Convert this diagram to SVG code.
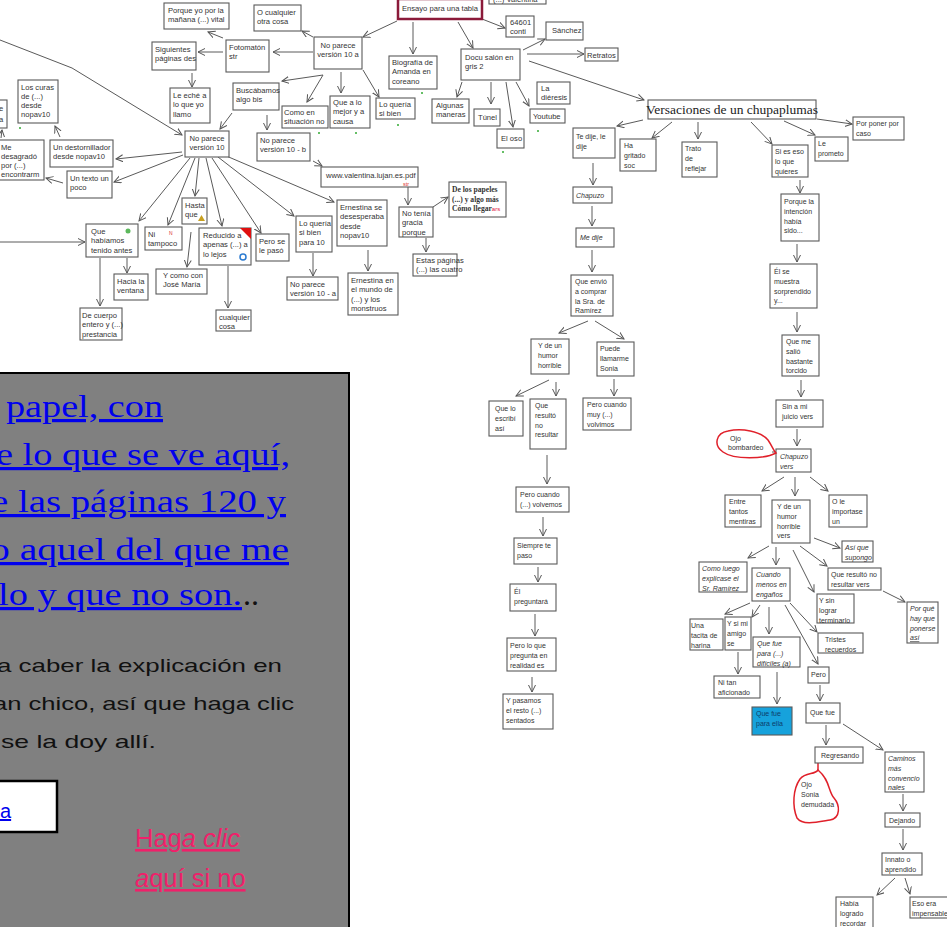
<svg xmlns="http://www.w3.org/2000/svg" width="947" height="927" viewBox="0 0 947 927">
<defs>
<marker id="ah" markerWidth="9" markerHeight="9" refX="7" refY="4" orient="auto" markerUnits="userSpaceOnUse"><path d="M0,0.5 L7,4 L0,7.5" fill="none" stroke="#555" stroke-width="1"/></marker>
<style>
.b{fill:#fff;stroke:#5a5a5a;stroke-width:1.1}
.t{font-family:"Liberation Sans",Arial,sans-serif;font-size:7.6px;fill:#333}
.r{font-family:"Liberation Sans",Arial,sans-serif;font-size:7px;fill:#333}
.i{font-style:italic}
.c{fill:none;stroke:#5a5a5a;stroke-width:1;marker-end:url(#ah)}
.l{fill:none;stroke:#5a5a5a;stroke-width:1}
.red{fill:none;stroke:#e0202a;stroke-width:1.5}
.blue{font-family:"Liberation Serif","Times New Roman",serif;font-size:32px;fill:#0000ee;text-decoration:underline}
.blk{font-family:"Liberation Sans",Arial,sans-serif;font-size:19px;fill:#111}
.pink{font-family:"Liberation Sans",Arial,sans-serif;font-size:25.5px;fill:#f0206a;text-decoration:underline}
</style>
</defs>
<rect x="0" y="0" width="947" height="927" fill="#fff"/>

<g id="connectors">
<path class="c" d="M0,40 L72,68 L182,135"/>
<path class="c" d="M0,242 L85,242"/>
<path class="c" d="M397,21 L363,37"/>
<path class="c" d="M313,52 L273,52"/>
<path class="c" d="M313,37 L302,31"/>
<path class="c" d="M323,75 L282,81"/>
<path class="c" d="M323,75 L307,102"/>
<path class="c" d="M341,72 L341,93"/>
<path class="c" d="M363,70 L379,97"/>
<path class="c" d="M223,38 L208,32"/>
<path class="c" d="M223,52 L198,52"/>
<path class="c" d="M192,73 L192,87"/>
<path class="c" d="M232,113 L220,129"/>
<path class="c" d="M267,115 L267,130"/>
<path class="c" d="M313,161 L322,166"/>
<path class="c" d="M182,152 L116,159"/>
<path class="c" d="M183,155 L114,182"/>
<path class="c" d="M63,183 L46,178"/>
<path class="c" d="M60,137 L55,126"/>
<path class="c" d="M1,138 L2,130"/>
<path class="c" d="M190,158 L139,221"/>
<path class="c" d="M195,158 L168,225"/>
<path class="c" d="M199,158 L195,196"/>
<path class="c" d="M206,158 L222,226"/>
<path class="c" d="M212,158 L261,233"/>
<path class="c" d="M218,157 L294,216"/>
<path class="c" d="M224,155 L334,202"/>
<path class="c" d="M127,258 L127,273"/>
<path class="c" d="M100,258 L100,306"/>
<path class="c" d="M191,232 L187,267"/>
<path class="c" d="M228,266 L228,308"/>
<path class="c" d="M313,253 L313,276"/>
<path class="c" d="M368,250 L368,271"/>
<path class="c" d="M408,187 L408,205"/>
<path class="c" d="M433,207 L448,197"/>
<path class="c" d="M426,238 L426,252"/>
<path class="c" d="M413,22 L413,54"/>
<path class="c" d="M458,22 L473,48"/>
<path class="c" d="M482,19 L505,28"/>
<path class="c" d="M523,50 L545,39"/>
<path class="c" d="M527,54 L584,54"/>
<path class="c" d="M529,61 L644,100"/>
<path class="c" d="M462,82 L457,97"/>
<path class="c" d="M491,82 L491,104"/>
<path class="c" d="M506,82 L513,127"/>
<path class="c" d="M516,82 L529,106"/>
<path class="c" d="M643,120 L617,126"/>
<path class="c" d="M672,122 L652,138"/>
<path class="c" d="M698,122 L698,139"/>
<path class="c" d="M751,122 L772,144"/>
<path class="c" d="M784,121 L815,135"/>
<path class="c" d="M817,119 L852,124"/>
<path class="c" d="M593,163 L593,185"/>
<path class="c" d="M592,206 L592,226"/>
<path class="c" d="M592,250 L592,272"/>
<path class="c" d="M588,321 L559,333"/>
<path class="c" d="M595,321 L624,339"/>
<path class="c" d="M549,380 L516,396"/>
<path class="c" d="M556,382 L556,396"/>
<path class="c" d="M614,379 L614,396"/>
<path class="c" d="M547,455 L547,484"/>
<path class="c" d="M543,517 L543,536"/>
<path class="c" d="M538,567 L538,582"/>
<path class="c" d="M535,614 L535,636"/>
<path class="c" d="M532,677 L532,692"/>
<path class="c" d="M800,180 L800,193"/>
<path class="c" d="M797,244 L797,262"/>
<path class="c" d="M797,312 L797,332"/>
<path class="c" d="M801,380 L801,397"/>
<path class="c" d="M797,429 L797,446"/>
<path class="c" d="M784,477 L762,491"/>
<path class="c" d="M795,477 L795,496"/>
<path class="c" d="M810,477 L828,491"/>
<path class="c" d="M814,538 L840,548"/>
<path class="c" d="M800,546 L827,566"/>
<path class="c" d="M793,550 L814,592"/>
<path class="c" d="M769,546 L748,558"/>
<path class="c" d="M776,547 L776,565"/>
<path class="c" d="M883,591 L905,602"/>
<path class="c" d="M750,603 L725,614"/>
<path class="c" d="M760,605 L752,617"/>
<path class="c" d="M769,607 L769,634"/>
<path class="c" d="M790,603 L817,632"/>
<path class="c" d="M785,605 L818,664"/>
<path class="c" d="M738,652 L738,674"/>
<path class="c" d="M777,672 L777,704"/>
<path class="c" d="M820,685 L820,701"/>
<path class="c" d="M826,725 L826,745"/>
<path class="c" d="M843,724 L883,750"/>
<path class="c" d="M903,794 L903,811"/>
<path class="c" d="M903,829 L903,850"/>
<path class="c" d="M895,878 L877,895"/>
<path class="c" d="M905,878 L910,894"/>
<path class="l" d="M776,452 L772,452"/>
<path class="red" d="M818,763 L818,770"/>
</g>

<g id="p0"><rect class="b" x="-40" y="100" width="47" height="28"/><text class="t"><tspan x="-1" y="111">e</tspan><tspan x="-1" y="122">a</tspan></text></g>
<g id="n_curas"><rect class="b" x="18" y="80" width="40" height="43"/><text class="t"><tspan x="21" y="89.5">Los curas</tspan><tspan x="21" dy="9.3">de (...)</tspan><tspan x="21" dy="9.3">desde</tspan><tspan x="21" dy="9.3">nopav10</tspan></text></g>
<g id="n_desag"><rect class="b" x="-2" y="140" width="46" height="40"/><text class="t"><tspan x="1" y="149.5">Me</tspan><tspan x="1" dy="9.3">desagradó</tspan><tspan x="1" dy="9.3">por (...)</tspan><tspan x="1" dy="9.3">encontrarm</tspan></text></g>
<g id="n_destorn"><rect class="b" x="50" y="140" width="63" height="27"/><text class="t"><tspan x="53" y="150">Un destornillador</tspan><tspan x="53" dy="9.3">desde nopav10</tspan></text></g>
<g id="n_texto"><rect class="b" x="67" y="171" width="45" height="27"/><text class="t"><tspan x="70" y="181">Un texto un</tspan><tspan x="70" dy="9.3">poco</tspan></text></g>
<g id="n_sig"><rect class="b" x="152" y="42" width="44" height="28"/><text class="t"><tspan x="155" y="52">Siguientes</tspan><tspan x="155" dy="9.3">páginas des</tspan></text></g>
<g id="n_porque"><rect class="b" x="164" y="3" width="65" height="26"/><text class="t"><tspan x="168" y="13">Porque yo por la</tspan><tspan x="168" dy="9.3">mañana (...) vital</tspan></text></g>
<g id="n_foto"><rect class="b" x="226" y="40" width="43" height="32"/><text class="t"><tspan x="229" y="50">Fotomatón</tspan><tspan x="229" dy="9.3">str</tspan></text></g>
<g id="n_leeche"><rect class="b" x="170" y="88" width="40" height="35"/><text class="t"><tspan x="173" y="98">Le eché a</tspan><tspan x="173" dy="9.3">lo que yo</tspan><tspan x="173" dy="9.3">llamo</tspan></text></g>
<g id="n_busc"><rect class="b" x="233" y="83" width="46" height="27"/><text class="t"><tspan x="236" y="93">Buscábamos</tspan><tspan x="236" dy="9.3">algo bis</tspan></text></g>
<g id="n_ocual"><rect class="b" x="254" y="5" width="47" height="26"/><text class="t"><tspan x="257" y="15">O cualquier</tspan><tspan x="257" dy="9.3">otra cosa</tspan></text></g>
<g id="n_np10"><rect class="b" x="185" y="131" width="44" height="26"/><text class="t" text-anchor="middle"><tspan x="207" y="141">No parece</tspan><tspan x="207" dy="9.3">versión 10</tspan></text></g>
<g id="n_np10b"><rect class="b" x="257" y="133" width="53" height="28"/><text class="t"><tspan x="260" y="143">No parece</tspan><tspan x="260" dy="9.3">versión 10 - b</tspan></text></g>
<g id="n_como"><rect class="b" x="282" y="106" width="46" height="22"/><text class="t"><tspan x="284" y="115">Como en</tspan><tspan x="284" dy="9.3">situación no</tspan></text></g>
<g id="n_np10a"><rect class="b" x="314" y="37" width="48" height="32"/><text class="t" text-anchor="middle"><tspan x="338" y="48">No parece</tspan><tspan x="338" dy="9.3">versión 10 a</tspan></text></g>
<g id="n_quealo"><rect class="b" x="330" y="96" width="40" height="32"/><text class="t"><tspan x="333" y="105">Que a lo</tspan><tspan x="333" dy="9.3">mejor y a</tspan><tspan x="333" dy="9.3">causa</tspan></text></g>
<g id="n_loqsb"><rect class="b" x="376" y="98" width="39" height="21"/><text class="t"><tspan x="379" y="107">Lo quería</tspan><tspan x="379" dy="9.3">si bien</tspan></text></g>
<g id="n_bio"><rect class="b" x="389" y="56" width="48" height="33"/><text class="t"><tspan x="392" y="65">Biografía de</tspan><tspan x="392" dy="9.3">Amanda en</tspan><tspan x="392" dy="9.3">coreano</tspan></text></g>
<g id="n_ensayo"><rect x="398" y="-1" width="84" height="20" fill="#fff" stroke="#8b1a3a" stroke-width="2.5"/><text class="t" x="402" y="11">Ensayo para una tabla</text></g>
<g id="n_val"><rect class="b" x="489" y="-8" width="57" height="12"/><text class="t" x="493" y="2">(...) Valentina</text></g>
<g id="n_64601"><rect class="b" x="506" y="16" width="28" height="21"/><text class="t"><tspan x="510" y="25">64601</tspan><tspan x="510" dy="9.3">conti</tspan></text></g>
<g id="n_sanchez"><rect class="b" x="546" y="22" width="37" height="18"/><text class="t" x="552" y="33">Sánchez</text></g>
<g id="n_retratos"><rect class="b" x="585" y="48" width="33" height="13"/><text class="t" x="587" y="57.5">Retratos</text></g>
<g id="n_docu"><rect class="b" x="461" y="49" width="59" height="31"/><text class="t"><tspan x="465" y="60">Docu salón en</tspan><tspan x="465" dy="9.3">gris 2</tspan></text></g>
<g id="n_algunas"><rect class="b" x="432" y="99" width="37" height="24"/><text class="t"><tspan x="436" y="108">Algunas</tspan><tspan x="436" dy="9.3">maneras</tspan></text></g>
<g id="n_tunel"><rect class="b" x="474" y="109" width="26" height="17"/><text class="t" x="478" y="120">Túnel</text></g>
<g id="n_oso"><rect class="b" x="497" y="129" width="27" height="19"/><text class="t" x="501" y="141">El oso</text></g>
<g id="n_youtube"><rect class="b" x="530" y="109" width="35" height="14"/><text class="t" x="533" y="119">Youtube</text></g>
<g id="n_dier"><rect class="b" x="537" y="82" width="33" height="22"/><text class="t"><tspan x="541" y="91">La</tspan><tspan x="541" dy="9.3">diéresis</tspan></text></g>

<g id="n_habiamos"><rect class="b" x="86" y="224" width="52" height="33"/><circle cx="128" cy="231" r="2.5" fill="#5cb85c"/><text class="t"><tspan x="91" y="234">Que</tspan><tspan x="91" dy="9.3">habíamos</tspan><tspan x="91" dy="9.3">tenido antes</tspan></text></g>
<g id="n_ni"><rect class="b" x="145" y="227" width="37" height="23"/><text x="169" y="235" font-family="Liberation Sans,sans-serif" font-size="5" fill="#d33">N</text><text class="t"><tspan x="148" y="237">Ni</tspan><tspan x="148" dy="9.3">tampoco</tspan></text></g>
<g id="n_hasta"><rect class="b" x="182" y="198" width="25" height="26"/><polygon points="198,221 201.5,215 205,221" fill="#c8a020"/><text class="t"><tspan x="185" y="208">Hasta</tspan><tspan x="185" dy="9.3">que</tspan></text></g>
<g id="n_reduc"><rect class="b" x="199" y="228" width="52" height="37"/><polygon points="240,228 251,228 251,239" fill="#e01010"/><circle cx="243" cy="257" r="3" fill="none" stroke="#2a7ad0" stroke-width="1.5"/><text class="t"><tspan x="203" y="238">Reducido a</tspan><tspan x="203" dy="9.3">apenas (...) a</tspan><tspan x="203" dy="9.3">lo lejos</tspan></text></g>
<g id="n_pero"><rect class="b" x="256" y="234" width="33" height="27"/><text class="t"><tspan x="259" y="244">Pero se</tspan><tspan x="259" dy="9.3">le pasó</tspan></text></g>
<g id="n_lq10"><rect class="b" x="296" y="216" width="36" height="36"/><text class="t"><tspan x="299" y="226">Lo quería</tspan><tspan x="299" dy="9.3">si bien</tspan><tspan x="299" dy="9.3">para 10</tspan></text></g>
<g id="n_np10a2"><rect class="b" x="287" y="277" width="51" height="23"/><text class="t"><tspan x="290" y="287">No parece</tspan><tspan x="290" dy="9.3">versión 10 - a</tspan></text></g>
<g id="n_hacia"><rect class="b" x="114" y="274" width="34" height="26"/><text class="t"><tspan x="117" y="284">Hacia la</tspan><tspan x="117" dy="9.3">ventana</tspan></text></g>
<g id="n_jose"><rect class="b" x="156" y="269" width="51" height="25"/><text class="t"><tspan x="163" y="278">Y como con</tspan><tspan x="163" dy="9.3">José María</tspan></text></g>
<g id="n_cuerpo"><rect class="b" x="80" y="308" width="42" height="32"/><text class="t"><tspan x="82" y="318">De cuerpo</tspan><tspan x="82" dy="9.3">entero y (...)</tspan><tspan x="82" dy="9.3">prestancia</tspan></text></g>
<g id="n_cualq"><rect class="b" x="216" y="310" width="35" height="21"/><text class="t"><tspan x="219" y="320">cualquier</tspan><tspan x="219" dy="9.3">cosa</tspan></text></g>
<g id="n_www"><rect class="b" x="321" y="167" width="97" height="20"/><text class="t" x="326" y="178">www.valentina.lujan.es.pdf</text><text x="403" y="185.5" font-family="Liberation Sans,sans-serif" font-size="5.5" fill="#d33">str</text></g>
<g id="n_ern1"><rect class="b" x="337" y="200" width="50" height="46"/><text class="t"><tspan x="340" y="210">Ernestina se</tspan><tspan x="340" dy="9.3">desesperaba</tspan><tspan x="340" dy="9.3">desde</tspan><tspan x="340" dy="9.3">nopav10</tspan></text></g>
<g id="n_ern2"><rect class="b" x="348" y="273" width="50" height="42"/><text class="t"><tspan x="351" y="283">Ernestina en</tspan><tspan x="351" dy="9.3">el mundo de</tspan><tspan x="351" dy="9.3">(...) y los</tspan><tspan x="351" dy="9.3">monstruos</tspan></text></g>
<g id="n_notenia"><rect class="b" x="399" y="207" width="34" height="30"/><text class="t"><tspan x="402" y="216">No tenía</tspan><tspan x="402" dy="9.3">gracia</tspan><tspan x="402" dy="9.3">porque</tspan></text></g>
<g id="n_papeles"><rect class="b" x="449" y="182" width="57" height="35"/><text font-family="Liberation Serif,serif" font-size="7.6" font-weight="bold" fill="#333"><tspan x="452" y="192">De los papeles</tspan><tspan x="452" dy="9.5">(...) y algo más</tspan><tspan x="452" dy="9.5">Cómo llegar</tspan><tspan font-weight="normal" font-family="Liberation Sans,sans-serif" font-size="6" fill="#e02040">ars</tspan></text></g>
<g id="n_estas"><rect class="b" x="413" y="254" width="44" height="22"/><text class="t"><tspan x="416" y="263">Estas páginas</tspan><tspan x="416" dy="9.3">(...) las cuatro</tspan></text></g>

<g id="n_vers"><rect class="b" x="648" y="100" width="168" height="19"/><text x="732" y="114" text-anchor="middle" font-family="Liberation Serif,serif" font-size="13.5" fill="#222">Versaciones de un chupaplumas</text></g>
<g id="n_porponer"><rect class="b" x="853" y="117" width="51" height="23"/><text class="r"><tspan x="856" y="126">Por poner por</tspan><tspan x="856" dy="9.8">caso</tspan></text></g>
<g id="n_leprom"><rect class="b" x="815" y="137" width="33" height="24"/><text class="r"><tspan x="818" y="146">Le</tspan><tspan x="818" dy="9.8">prometo</tspan></text></g>
<g id="n_tedije"><rect class="b" x="573" y="128" width="42" height="30"/><text class="r"><tspan x="576" y="139">Te dije, le</tspan><tspan x="576" dy="9.8">dije</tspan></text></g>
<g id="n_hagrit"><rect class="b" x="620" y="139" width="36" height="32"/><text class="r"><tspan x="624" y="148">Ha</tspan><tspan x="624" dy="9.8">gritado</tspan><tspan x="624" dy="9.8">soc</tspan></text></g>
<g id="n_trato"><rect class="b" x="682" y="142" width="35" height="35"/><text class="r"><tspan x="685" y="151">Trato</tspan><tspan x="685" dy="9.8">de</tspan><tspan x="685" dy="9.8">reflejar</tspan></text></g>
<g id="n_siesa"><rect class="b" x="772" y="145" width="36" height="32"/><text class="r"><tspan x="775" y="154">Si es eso</tspan><tspan x="775" dy="9.8">lo que</tspan><tspan x="775" dy="9.8">quieres</tspan></text></g>
<g id="n_chap"><rect class="b" x="573" y="187" width="39" height="16"/><text class="r i" x="576" y="198">Chapuzo</text></g>
<g id="n_medije"><rect class="b" x="576" y="228" width="38" height="19"/><text class="r i" x="580" y="240">Me dije</text></g>
<g id="n_porquela"><rect class="b" x="781" y="194" width="38" height="47"/><text class="r"><tspan x="784" y="204">Porque la</tspan><tspan x="784" dy="9.8">intención</tspan><tspan x="784" dy="9.8">había</tspan><tspan x="784" dy="9.8">sido...</tspan></text></g>
<g id="n_else"><rect class="b" x="770" y="264" width="47" height="44"/><text class="r"><tspan x="774" y="274">Él se</tspan><tspan x="774" dy="9.8">muestra</tspan><tspan x="774" dy="9.8">sorprendido</tspan><tspan x="774" dy="9.8">y...</tspan></text></g>
<g id="n_queme"><rect class="b" x="782" y="335" width="37" height="41"/><text class="r"><tspan x="786" y="344">Que me</tspan><tspan x="786" dy="9.8">salió</tspan><tspan x="786" dy="9.8">bastante</tspan><tspan x="786" dy="9.8">torcido</tspan></text></g>
<g id="n_sinami"><rect class="b" x="776" y="400" width="47" height="27"/><text class="r"><tspan x="782" y="409">Sin a mi</tspan><tspan x="782" dy="9.8">juicio vers</tspan></text></g>
<g id="n_envio"><rect class="b" x="571" y="275" width="42" height="41"/><text class="r"><tspan x="575" y="284">Que envió</tspan><tspan x="575" dy="9.8">a comprar</tspan><tspan x="575" dy="9.8">la Sra. de</tspan><tspan x="575" dy="9.8">Ramírez</tspan></text></g>
<g id="n_humor"><rect class="b" x="531" y="339" width="38" height="35"/><text class="r"><tspan x="538" y="348">Y de un</tspan><tspan x="538" dy="9.8">humor</tspan><tspan x="538" dy="9.8">horrible</tspan></text></g>
<g id="n_sonia"><rect class="b" x="597" y="342" width="37" height="34"/><text class="r"><tspan x="600" y="351">Puede</tspan><tspan x="600" dy="9.8">llamarme</tspan><tspan x="600" dy="9.8">Sonia</tspan></text></g>
<g id="n_escribi"><rect class="b" x="489" y="401" width="34" height="35"/><text class="r"><tspan x="495" y="411">Que lo</tspan><tspan x="495" dy="9.8">escribí</tspan><tspan x="495" dy="9.8">así</tspan></text></g>
<g id="n_resulto"><rect class="b" x="530" y="399" width="36" height="50"/><text class="r"><tspan x="535" y="408">Que</tspan><tspan x="535" dy="9.8">resultó</tspan><tspan x="535" dy="9.8">no</tspan><tspan x="535" dy="9.8">resultar</tspan></text></g>
<g id="n_muy"><rect class="b" x="583" y="398" width="48" height="32"/><text class="r"><tspan x="587" y="407">Pero cuando</tspan><tspan x="587" dy="9.8">muy (...)</tspan><tspan x="587" dy="9.8">volvimos</tspan></text></g>
<g id="n_volvemos"><rect class="b" x="516" y="487" width="53" height="25"/><text class="r"><tspan x="520" y="497">Pero cuando</tspan><tspan x="520" dy="9.8">(...) volvemos</tspan></text></g>
<g id="n_siempre"><rect class="b" x="514" y="538" width="43" height="26"/><text class="r"><tspan x="517" y="548">Siempre te</tspan><tspan x="517" dy="9.8">paso</tspan></text></g>
<g id="n_pregunt"><rect class="b" x="510" y="584" width="46" height="27"/><text class="r"><tspan x="514" y="594">Él</tspan><tspan x="514" dy="9.8">preguntará</tspan></text></g>
<g id="n_realidad"><rect class="b" x="507" y="638" width="49" height="33"/><text class="r"><tspan x="510" y="648">Pero lo que</tspan><tspan x="510" dy="9.8">pregunta en</tspan><tspan x="510" dy="9.8">realidad es</tspan></text></g>
<g id="n_pasamos"><rect class="b" x="503" y="694" width="50" height="35"/><text class="r"><tspan x="506" y="703">Y pasamos</tspan><tspan x="506" dy="9.8">el resto (...)</tspan><tspan x="506" dy="9.8">sentados</tspan></text></g>
<g id="n_chapv"><rect class="b" x="776" y="449" width="35" height="23"/><text class="r i"><tspan x="780" y="459">Chapuzo</tspan><tspan x="780" dy="9.8">vers</tspan></text></g>
<g id="n_entre"><rect class="b" x="725" y="495" width="36" height="32"/><text class="r"><tspan x="729" y="504">Entre</tspan><tspan x="729" dy="9.8">tantos</tspan><tspan x="729" dy="9.8">mentiras</tspan></text></g>
<g id="n_humorv"><rect class="b" x="772" y="500" width="38" height="43"/><text class="r"><tspan x="777" y="509">Y de un</tspan><tspan x="777" dy="9.8">humor</tspan><tspan x="777" dy="9.8">horrible</tspan><tspan x="777" dy="9.8">vers</tspan></text></g>
<g id="n_ole"><rect class="b" x="829" y="495" width="38" height="32"/><text class="r"><tspan x="832" y="504">O le</tspan><tspan x="832" dy="9.8">importase</tspan><tspan x="832" dy="9.8">un</tspan></text></g>
<g id="n_asique"><rect class="b" x="842" y="541" width="31" height="21"/><text class="r i"><tspan x="845" y="550">Así que</tspan><tspan x="845" dy="9.8">supongo</tspan></text></g>
<g id="n_comoluego"><rect class="b" x="699" y="562" width="48" height="30"/><text class="r i"><tspan x="702" y="571">Como luego</tspan><tspan x="702" dy="9.8">explicase el</tspan><tspan x="702" dy="9.8">Sr. Ramírez</tspan></text></g>
<g id="n_cuando"><rect class="b" x="752" y="568" width="38" height="33"/><text class="r i"><tspan x="756" y="577">Cuando</tspan><tspan x="756" dy="9.8">menos en</tspan><tspan x="756" dy="9.8">engaños</tspan></text></g>
<g id="n_resultov"><rect class="b" x="828" y="568" width="53" height="22"/><text class="r"><tspan x="831" y="577">Que resultó no</tspan><tspan x="831" dy="9.8">resultar vers</tspan></text></g>
<g id="n_sinlograr"><rect class="b" x="817" y="594" width="37" height="29"/><text class="r"><tspan x="819" y="603">Y sin</tspan><tspan x="819" dy="9.8">lograr</tspan><tspan x="819" dy="9.8">terminarlo</tspan></text></g>
<g id="n_porque2"><rect class="b" x="907" y="602" width="31" height="41"/><text class="r i"><tspan x="910" y="611">Por qué</tspan><tspan x="910" dy="9.8">hay que</tspan><tspan x="910" dy="9.8">ponerse</tspan><tspan x="910" dy="9.8" text-decoration="underline">así</tspan></text></g>
<g id="n_tacita"><rect class="b" x="690" y="619" width="33" height="31"/><text class="r"><tspan x="691" y="628">Una</tspan><tspan x="691" dy="9.8">tacita de</tspan><tspan x="691" dy="9.8">harina</tspan></text></g>
<g id="n_simi"><rect class="b" x="725" y="617" width="26" height="33"/><text class="r"><tspan x="727" y="626">Y si mi</tspan><tspan x="727" dy="9.8">amigo</tspan><tspan x="727" dy="9.8">se</tspan></text></g>
<g id="n_quefuepara"><rect class="b" x="753" y="637" width="47" height="30"/><text class="r i"><tspan x="757" y="646">Que fue</tspan><tspan x="757" dy="9.8">para (...)</tspan><tspan x="757" dy="9.8">difíciles (a)</tspan></text></g>
<g id="n_tristes"><rect class="b" x="818" y="633" width="45" height="20"/><text class="r"><tspan x="825" y="642">Tristes</tspan><tspan x="825" dy="9.8">recuerdos</tspan></text></g>
<g id="n_pero2"><rect class="b" x="808" y="667" width="21" height="16"/><text class="r" x="811" y="677">Pero</text></g>
<g id="n_nitan"><rect class="b" x="714" y="676" width="46" height="22"/><text class="r"><tspan x="718" y="685">Ni tan</tspan><tspan x="718" dy="9.8">aficionado</tspan></text></g>
<g id="n_ella"><rect x="752" y="707" width="40" height="28" fill="#16a2dc" stroke="#5a5a5a" stroke-width="1.1"/><text class="r" style="fill:#0d3d6b"><tspan x="756" y="716">Que fue</tspan><tspan x="756" dy="9.8">para ella</tspan></text></g>
<g id="n_quefue"><rect class="b" x="806" y="703" width="34" height="20"/><text class="r" x="810" y="715">Que fue</text></g>
<g id="n_regres"><rect class="b" x="815" y="747" width="48" height="16"/><text class="r" x="821" y="758">Regresando</text></g>
<g id="n_caminos"><rect class="b" x="885" y="752" width="39" height="40"/><text class="r i"><tspan x="888" y="761">Caminos</tspan><tspan x="888" dy="9.8">más</tspan><tspan x="888" dy="9.8">convencio</tspan><tspan x="888" dy="9.8">nales</tspan></text></g>
<g id="n_dejando"><rect class="b" x="885" y="813" width="35" height="14"/><text class="r" x="889" y="823">Dejando</text></g>
<g id="n_innato"><rect class="b" x="882" y="853" width="40" height="22"/><text class="r"><tspan x="885" y="862">Innato o</tspan><tspan x="885" dy="9.8">aprendido</tspan></text></g>
<g id="n_habia"><rect class="b" x="836" y="897" width="37" height="33"/><text class="r"><tspan x="840" y="906">Había</tspan><tspan x="840" dy="9.8">logrado</tspan><tspan x="840" dy="9.8">recordar</tspan></text></g>
<g id="n_eso"><rect class="b" x="910" y="897" width="40" height="21"/><text class="r"><tspan x="912" y="906">Eso era</tspan><tspan x="912" dy="9.8">impensable</tspan></text></g>

<g id="n_ojo1"><path class="red" d="M776,453 C765,459 734,460 723,452 C713,445 716,433 728,431 C742,428 760,431 768,440 C772,446 774,451 776,453 Z"/><text class="r"><tspan x="730" y="441">Ojo</tspan><tspan x="728" dy="9">bombardeo</tspan></text></g>
<g id="n_ojo2"><path class="red" d="M818,770 C815,775 806,772 800,779 C793,789 792,806 797,818 C803,826 818,822 830,820 C841,818 840,805 834,798 C828,791 830,780 818,770 Z"/><text class="r"><tspan x="801" y="787">Ojo</tspan><tspan x="801" dy="9.8">Sonia</tspan><tspan x="801" dy="9.8">demudada</tspan></text></g>

<g id="panel">
<rect x="-2" y="373" width="351" height="560" fill="#808080" stroke="#000" stroke-width="2"/>
<text class="blue" x="6" y="417" textLength="157" lengthAdjust="spacingAndGlyphs">papel, con</text>
<text class="blue" x="-4" y="465" textLength="294" lengthAdjust="spacingAndGlyphs">e lo que se ve aquí,</text>
<text class="blue" x="-9" y="512" textLength="295" lengthAdjust="spacingAndGlyphs">e las páginas 120 y</text>
<text class="blue" x="-10" y="560" textLength="299" lengthAdjust="spacingAndGlyphs">o aquel del que me</text>
<text class="blue" x="-2" y="605" textLength="244" lengthAdjust="spacingAndGlyphs">lo y que no son.</text>
<text x="243" y="605" font-family="Liberation Serif,serif" font-size="32" fill="#111">..</text>
<text class="blk" x="-3" y="672" textLength="285" lengthAdjust="spacingAndGlyphs">a caber la explicación en</text>
<text class="blk" x="-7" y="710" textLength="301" lengthAdjust="spacingAndGlyphs">an chico, así que haga clic</text>
<text class="blk" x="1" y="748" textLength="155" lengthAdjust="spacingAndGlyphs"> se la doy allí.</text>
<rect x="-3" y="781" width="60" height="51" fill="#fff" stroke="#000" stroke-width="2.5"/>
<text x="0" y="818" font-family="Liberation Sans,sans-serif" font-size="20" fill="#0000ee" text-decoration="underline">a</text>
<text class="pink" x="135" y="847">Hag<tspan font-style="italic">a clic</tspan></text>
<text class="pink" x="135" y="887"><tspan font-style="italic">a</tspan>quí si no</text>
</g>
<g id="dots" fill="#3a3">
<circle cx="20" cy="128" r="1"/><circle cx="422" cy="93" r="1"/><circle cx="319" cy="133" r="1"/><circle cx="356" cy="133" r="1"/><circle cx="398" cy="125" r="1"/><circle cx="538" cy="131" r="1"/><circle cx="503" cy="152" r="1"/>
</g>
</svg>
